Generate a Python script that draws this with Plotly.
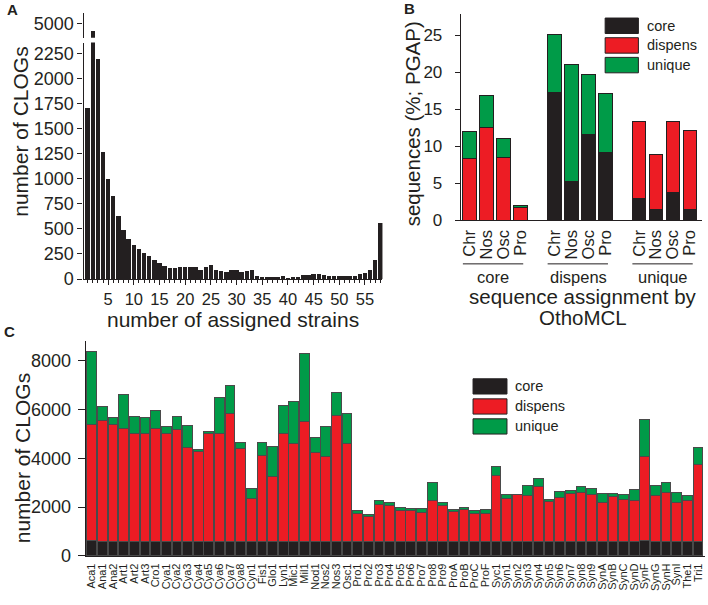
import plotly.graph_objects as go

# ---------------- data ----------------
# Panel A: number of CLOGs by number of assigned strains (1..58)
strain_counts = list(range(1, 59))
clog_counts = [1711, 4930, 2195, 1266, 995, 831, 628, 491, 399, 344,
               298, 255, 232, 193, 157, 131, 111, 108, 124, 118,
               121, 121, 85, 118, 137, 85, 82, 70, 88, 85,
               72, 75, 88, 33, 23, 23, 16, 23, 33, 10,
               20, 23, 39, 39, 46, 46, 36, 29, 26, 26,
               33, 33, 33, 46, 59, 92, 190, 559]
a_lower_ticks = [0, 250, 500, 750, 1000, 1250, 1500, 1750, 2000, 2250]
a_upper_ticks = [5000]
a_x_ticks = [5, 10, 15, 20, 25, 30, 35, 40, 45, 50, 55]

# Panel B: sequences (%; PGAP) by OrthoMCL assignment group
b_groups = ["core", "dispens", "unique"]
b_subcats = ["Chr", "Nos", "Osc", "Pro"]
b_core = [0, 0, 0, 0, 17.2, 5.3, 11.6, 9.2, 2.9, 1.4, 3.7, 1.4]
b_dispens = [8.3, 12.6, 8.5, 1.7, 0, 0, 0, 0, 10.5, 7.5, 9.6, 10.7]
b_unique = [3.7, 4.3, 2.6, 0.25, 7.9, 15.8, 8.1, 7.9, 0, 0, 0, 0]
b_y_ticks = [0, 5, 10, 15, 20, 25]

# Panel C: number of CLOGs per strain
strains = ["Aca1", "Ana1", "Ana2", "Art1", "Art2", "Art3", "Cro1", "Cya1", "Cya2", "Cya3",
           "Cya4", "Cya5", "Cya6", "Cya7", "Cya8", "Cyn1", "Fis1", "Glo1", "Lyn1", "Mic1",
           "Mil1", "Nod1", "Nos2", "Nos3", "Osc1", "Pro1", "Pro2", "Pro3", "Pro4", "Pro5",
           "Pro6", "Pro7", "Pro8", "Pro9", "ProA", "ProB", "ProC", "ProF", "Syc1", "Syn1",
           "Syn2", "Syn3", "Syn4", "Syn5", "Syn6", "Syn7", "Syn8", "Syn9", "SynA", "SynB",
           "SynC", "SynD", "SynF", "SynG", "SynH", "SynI", "The1", "Tri1"]
c_core = [640, 600, 600, 600, 600, 600, 600, 600, 600, 600,
          600, 600, 600, 600, 600, 600, 600, 600, 600, 600,
          600, 600, 600, 600, 600, 600, 600, 600, 600, 600,
          600, 600, 600, 600, 600, 600, 600, 600, 600, 600,
          600, 600, 600, 600, 600, 600, 600, 600, 600, 600,
          600, 600, 620, 600, 600, 600, 600, 600]
c_dispens = [4736, 4929, 4795, 4620, 4419, 4419, 4620, 4392, 4567, 3829,
             3668, 4419, 4419, 5238, 3815, 1735, 3493, 2634, 4392, 4016,
             4916, 3627, 3453, 5130, 4016, 1118, 1024, 1520, 1467, 1252,
             1252, 1198, 1681, 1480, 1239, 1292, 1118, 1158, 2674, 1735,
             1896, 1856, 2258, 1628, 1802, 1936, 1977, 1923, 1587, 1816,
             1722, 1681, 3433, 1883, 1977, 1587, 1681, 3144]
c_unique = [3000, 604, 268, 1409, 671, 658, 738, 322, 550, 899,
            93, 81, 1463, 1127, 242, 416, 537, 1235, 1154, 1705,
            2784, 618, 1261, 953, 1208, 147, 80, 161, 107, 121,
            80, 134, 725, 121, 80, 108, 147, 134, 403, 188,
            27, 443, 323, 94, 242, 135, 281, 242, 349, 120,
            188, 457, 1530, 416, 416, 390, 188, 698]
c_y_ticks = [0, 2000, 4000, 6000, 8000]

series_names = ["core", "dispens", "unique"]

# ---------------- style ----------------
W, H = 708, 605
INK = "#231f20"
COLORS = {"core": "#231f20", "dispens": "#ed1c24", "unique": "#009b48"}
FONT = "Liberation Sans, Arial, Helvetica, sans-serif"


def px(x):
    return x / W


def py(y):
    return 1 - y / H


def nz(vals):
    return [v if v != 0 else None for v in vals]


axis_common = dict(showline=True, linecolor=INK, linewidth=1.3, showgrid=False,
                   zeroline=False, tickcolor=INK, tickwidth=1.3,
                   tickfont=dict(family=FONT, size=18, color=INK))

fig = go.Figure()

# Panel A (broken y axis: lower + upper segment)
fig.add_trace(go.Bar(x=strain_counts, y=clog_counts, xaxis="x", yaxis="y",
                     marker=dict(color=INK, line=dict(width=0)), width=0.86,
                     showlegend=False))
fig.add_trace(go.Bar(x=strain_counts, y=clog_counts, xaxis="x", yaxis="y2",
                     marker=dict(color=INK, line=dict(width=0)), width=0.86,
                     showlegend=False))

# Panel B
b_x = [g * 5 + i + 1 for g in range(len(b_groups)) for i in range(len(b_subcats))]
b_ticktext = [s for _ in b_groups for s in b_subcats]
for name, vals in zip(series_names, [b_core, b_dispens, b_unique]):
    fig.add_trace(go.Bar(x=b_x, y=nz(vals), xaxis="x2", yaxis="y3", name=name,
                         marker=dict(color=COLORS[name], line=dict(color=INK, width=1)),
                         width=0.8, showlegend=False))

# Panel C
for name, vals in zip(series_names, [c_core, c_dispens, c_unique]):
    fig.add_trace(go.Bar(x=strains, y=vals, xaxis="x3", yaxis="y4", name=name,
                         marker=dict(color=COLORS[name], line=dict(color="#4a4a4a", width=1)),
                         width=0.92, showlegend=False))

fig.update_layout(
    width=W, height=H, autosize=False,
    margin=dict(l=0, r=0, t=0, b=0),
    paper_bgcolor="white", plot_bgcolor="white",
    barmode="stack", showlegend=False,
    font=dict(family=FONT, color=INK),
    xaxis=dict(axis_common, domain=[px(82.7), px(382)], anchor="y", range=[0.22, 58.4],
               tickmode="array", tickvals=a_x_ticks, ticks="outside", ticklen=5,
               tickfont=dict(family=FONT, size=16.5, color=INK),
               minor=dict(dtick=1, tick0=0, ticks="outside", ticklen=3,
                          tickcolor=INK, tickwidth=1, showgrid=False)),
    yaxis=dict(axis_common, domain=[py(283.7), py(43.3)], anchor="x", range=[0, 2360],
               tickmode="array", tickvals=a_lower_ticks, ticks="outside", ticklen=5),
    yaxis2=dict(axis_common, domain=[py(38.3), py(13.3)], anchor="x", range=[4863, 5108],
                tickmode="array", tickvals=a_upper_ticks, ticks="outside", ticklen=5),
    xaxis2=dict(axis_common, domain=[px(460.5), px(701.7)], anchor="y3", range=[0.48, 14.69],
                tickmode="array", tickvals=b_x, ticktext=b_ticktext, tickangle=-90,
                ticks="", ticklabelstandoff=2,
                tickfont=dict(family=FONT, size=16.5, color=INK)),
    yaxis3=dict(axis_common, domain=[py(224), py(14)], anchor="x2", range=[0, 27.9],
                tickmode="array", tickvals=b_y_ticks, ticks="outside", ticklen=5,
                ticklabelstandoff=9, tickfont=dict(family=FONT, size=17, color=INK)),
    xaxis3=dict(axis_common, domain=[px(85), px(705)], anchor="y4", range=[-0.56, 57.66],
                type="category", tickmode="array", tickvals=strains, ticktext=strains,
                tickangle=-90, ticks="", ticklabelstandoff=2,
                tickfont=dict(family=FONT, size=11, color=INK)),
    yaxis4=dict(axis_common, domain=[py(565.3), py(346.7)], anchor="x3", range=[0, 8800],
                tickmode="array", tickvals=c_y_ticks, ticks="outside", ticklen=7,
                ticklabelstandoff=3),
)

ann = []
shapes = []


def text(x, y, s, size, angle=0, bold=False, xref="paper", xanchor="center"):
    ann.append(dict(x=x, y=y, xref=xref, yref="paper", text=("<b>%s</b>" % s) if bold else s,
                    showarrow=False, textangle=angle, xanchor=xanchor, yanchor="middle",
                    font=dict(family=FONT, size=size, color=INK)))


# panel letters
text(px(12), py(10), "A", 15, bold=True)
text(px(409), py(9), "B", 15, bold=True)
text(px(9), py(337), "C", 15, bold=True)

# axis titles
text(px(20), py(134), "number of CLOGs", 21, angle=-90)
text(px(232), py(325), "number of assigned strains", 21)
text(px(413), py(126), "sequences (%; PGAP)", 20.5, angle=-90)
text(px(583), py(301.5), "sequence assignment by", 20.5)
text(px(583), py(322.5), "OthoMCL", 20.5)
text(px(21), py(466), "number of CLOGs", 21, angle=-90)

# panel B group lines and labels
for g, gname in enumerate(b_groups):
    first = g * 5 + 1
    last = g * 5 + len(b_subcats)
    shapes.append(dict(type="line", xref="x2", yref="paper", x0=first - 0.4, x1=last + 0.16,
                       y0=py(268.3), y1=py(268.3), line=dict(color=INK, width=1)))
    text((first + last) / 2 - 0.1, py(282), gname, 16.5, xref="x2")


# custom legends
def legend(x0, ys, sw_w, sw_h, tx, size):
    for name, yc in zip(series_names, ys):
        shapes.append(dict(type="rect", xref="paper", yref="paper",
                           x0=px(x0), x1=px(x0 + sw_w), y0=py(yc + sw_h / 2), y1=py(yc - sw_h / 2),
                           fillcolor=COLORS[name], line=dict(color=INK, width=1)))
        text(px(tx), py(yc), name, size, xanchor="left")


legend(605, [26.2, 46.2, 66.2], 33.3, 15.7, 645, 14.5)
legend(472.7, [392.9, 413.3, 433.6], 34, 15.5, 513, 14.5)

fig.update_layout(annotations=ann, shapes=shapes)
fig.write_html("out.html", config={"displayModeBar": False},
               post_script="document.body.style.margin='0';document.body.style.padding='0';")
